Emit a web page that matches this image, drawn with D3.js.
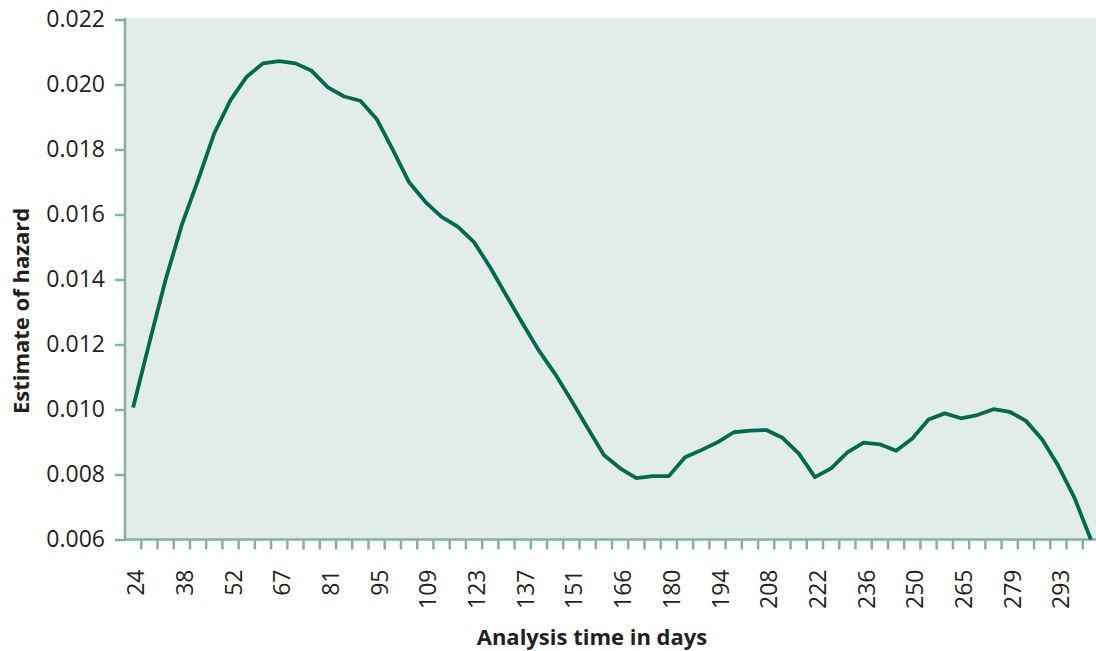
<!DOCTYPE html>
<html>
<head>
<meta charset="utf-8">
<script src="https://cdn.jsdelivr.net/npm/d3@7"></script>
<style>
  body { margin: 0; background: #fff; }
  svg { display: block; font-family: "Open Sans", sans-serif; }
</style>
</head>
<body>
<svg id="chart" width="1096" height="651"></svg>
<script>
// labelled analysis times (every third time point carries a label)
const timeLabels = [24, 38, 52, 67, 81, 95, 109, 123, 137, 151, 166, 180, 194, 208, 222, 236, 250, 265, 279, 293];

// smoothed hazard estimate at each time point
const hazard = [
    0.01006, 0.01205, 0.01399, 0.01568, 0.01706, 0.01850, 0.01952, 0.02024, 0.02065, 0.02072,
    0.02065, 0.02042, 0.01991, 0.01963, 0.01950, 0.01894, 0.01799, 0.01699, 0.01639, 0.01593,
    0.01563, 0.01515, 0.01437, 0.01350, 0.01264, 0.01181, 0.01109, 0.01028, 0.00943, 0.00860,
    0.00819, 0.00789, 0.00795, 0.00795, 0.00853, 0.00875, 0.00899, 0.00930, 0.00935, 0.00937,
    0.00913, 0.00865, 0.00792, 0.00819, 0.00868, 0.00898, 0.00893, 0.00873, 0.00911, 0.00969,
    0.00988, 0.00973, 0.00983, 0.01001, 0.00993, 0.00965, 0.00908, 0.00826, 0.00727, 0.00600
];

const yTicks = [0.006, 0.008, 0.010, 0.012, 0.014, 0.016, 0.018, 0.020, 0.022];

const COLORS = {
    plotFill: '#e2ece8',
    axis: '#82b3a1',
    line: '#006b4f',
    text: '#231f20'
};

const FONT = '"Open Sans", sans-serif';

const plot = { left: 125, right: 1099, top: 19.5, bottom: 539.5 };

const svg = d3.select('#chart');

const x = d3.scaleBand()
    .domain(d3.range(hazard.length))
    .range([plot.left, plot.right])
    .padding(0);

const y = d3.scaleLinear()
    .domain([0.006, 0.022])
    .range([plot.bottom, plot.top]);

// plot background
svg.append('rect')
    .attr('x', plot.left)
    .attr('y', 18)
    .attr('width', plot.right - plot.left)
    .attr('height', plot.bottom - 18)
    .attr('fill', COLORS.plotFill);

// y axis
var yAxis = svg.append('g')
    .attr('transform', 'translate(' + plot.left + ',0)')
    .call(d3.axisLeft(y).tickValues(yTicks).tickFormat(d3.format('.3f')).tickSize(10).tickPadding(10))
    .attr('font-family', FONT);

yAxis.select('.domain').remove();
yAxis.append('line')
    .attr('x1', 0).attr('x2', 0)
    .attr('y1', 18).attr('y2', plot.bottom)
    .attr('stroke', COLORS.axis)
    .attr('stroke-width', 2.5);
yAxis.selectAll('.tick line').attr('stroke', COLORS.axis).attr('stroke-width', 2.5);
yAxis.selectAll('.tick text')
    .attr('fill', COLORS.text)
    .attr('font-size', 23);

// x axis: ticks sit between categories, labels on every third category
var xAxisG = svg.append('g').attr('transform', 'translate(0,' + plot.bottom + ')');

xAxisG.append('line')
    .attr('x1', plot.left).attr('x2', plot.right)
    .attr('y1', 0).attr('y2', 0)
    .attr('stroke', COLORS.axis)
    .attr('stroke-width', 2.5);

xAxisG.selectAll('.xtick')
    .data(d3.range(hazard.length))
    .enter()
    .append('line')
    .attr('class', 'xtick')
    .attr('x1', (i) => x(i) + x.bandwidth())
    .attr('x2', (i) => x(i) + x.bandwidth())
    .attr('y1', 0)
    .attr('y2', 10)
    .attr('stroke', COLORS.axis)
    .attr('stroke-width', 2.5);

xAxisG.selectAll('.xlabel')
    .data(timeLabels)
    .enter()
    .append('text')
    .attr('class', 'xlabel')
    .attr('transform', (d, i) => 'translate(' + (x(i * 3) + x.bandwidth() / 2 + 3) + ',30) rotate(-90)')
    .attr('text-anchor', 'end')
    .attr('dy', '0.35em')
    .attr('font-family', FONT)
    .attr('fill', COLORS.text)
    .attr('font-size', 23)
    .text((d) => d);

// hazard curve
var line = d3.line()
    .x((d, i) => x(i) + x.bandwidth() / 2)
    .y((d) => y(d));

svg.append('path')
    .datum(hazard)
    .attr('d', line)
    .attr('fill', 'none')
    .attr('stroke', COLORS.line)
    .attr('stroke-width', 3.8)
    .attr('stroke-linejoin', 'round');

// axis titles
svg.append('text')
    .attr('x', 592)
    .attr('y', 645)
    .attr('text-anchor', 'middle')
    .attr('font-weight', 'bold')
    .attr('font-size', 22)
    .attr('fill', COLORS.text)
    .text('Analysis time in days');

svg.append('text')
    .attr('transform', 'translate(29,311) rotate(-90)')
    .attr('text-anchor', 'middle')
    .attr('font-weight', 'bold')
    .attr('font-size', 22)
    .attr('fill', COLORS.text)
    .text('Estimate of hazard');
</script>
</body>
</html>
